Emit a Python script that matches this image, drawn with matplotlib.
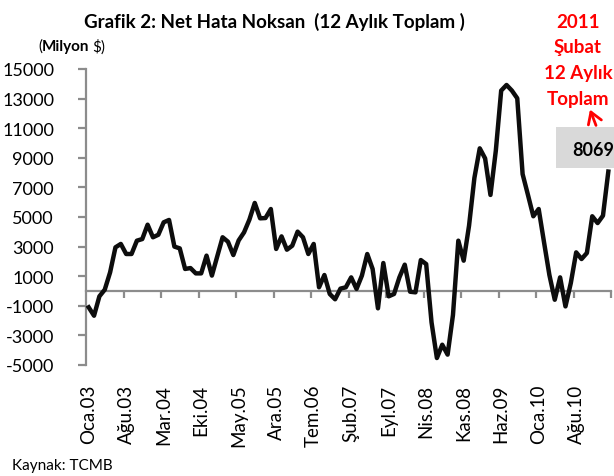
import matplotlib
matplotlib.use('Agg')
import matplotlib.pyplot as plt

plt.rcParams['font.family'] = ['Lato', 'DejaVu Sans']

# Net hata noksan, 12 aylik toplam (milyon $), Oca.03 - Sub.11
v2003 = [-1100, -1670, -360, 90, 1260, 2950, 3180, 2500, 2500, 3400, 3510, 4480]
v2004 = [3630, 3800, 4640, 4800, 3000, 2880, 1490, 1550, 1190, 1190, 2390, 1040]
v2005 = [2340, 3630, 3330, 2430, 3420, 3960, 4820, 5950, 4910, 4930, 5540, 2840]
v2006 = [3690, 2790, 3060, 4010, 3630, 2500, 3180, 250, 1080, -200, -560, 160]
v2007 = [250, 920, 140, 1040, 2500, 1490, -1170, 1890, -360, -200, 920, 1780]
v2008 = [-50, -90, 2090, 1820, -2120, -4530, -3630, -4300, -1620, 3400, 2050, 4410]
v2009 = [7640, 9640, 8960, 6490, 9480, 13540, 13920, 13540, 13020, 7900, 6490, 5050]
v2010 = [5540, 3290, 1080, -590, 920, -1040, 540, 2610, 2160, 2570, 5050, 4590]
v2011 = [5090, 8069]

tick_labels = ['Oca.03', 'Ağu.03', 'Mar.04', 'Eki.04', 'May.05', 'Ara.05', 'Tem.06',
               'Şub.07', 'Eyl.07', 'Nis.08', 'Kas.08', 'Haz.09', 'Oca.10', 'Ağu.10']
y_ticks = [-5000, -3000, -1000, 1000, 3000, 5000, 7000, 9000, 11000, 13000, 15000]

values = v2003 + v2004 + v2005 + v2006 + v2007 + v2008 + v2009 + v2010 + v2011
n = len(values)
step = 7

W, H = 614, 477


def px(x, y):
    # pixel position -> figure fraction
    return x / W, 1 - y / H


fig = plt.figure(figsize=(W / 100, H / 100), dpi=100)
ax_left, ax_right, ax_top, ax_bottom = 86, 611, 70, 366
ax = fig.add_axes([ax_left / W, 1 - ax_bottom / H,
                   (ax_right - ax_left) / W, (ax_bottom - ax_top) / H])
ax.patch.set_alpha(0)

ax.plot(range(n), values, color='#0d0d0d', linewidth=3.2, clip_on=False, zorder=3)

ax.set_xlim(-0.5, n - 0.5)
ax.set_ylim(y_ticks[0], y_ticks[-1])
ax.set_yticks(y_ticks)
ax.set_yticklabels([str(v) for v in y_ticks])

axis_gray = '#8c8c8c'
for s in ['top', 'right']:
    ax.spines[s].set_visible(False)
ax.spines['left'].set_color(axis_gray)
ax.spines['left'].set_linewidth(1.6)
ax.spines['bottom'].set_position(('data', 0))
ax.spines['bottom'].set_color(axis_gray)
ax.spines['bottom'].set_linewidth(1.6)

ax.set_xticks([step * k - 0.5 for k in range(1, n // step + 1)])
ax.set_xticklabels([])
ax.tick_params(axis='x', direction='out', length=5, width=1.6, color=axis_gray)
ax.tick_params(axis='y', direction='out', length=6, width=1.6, color=axis_gray,
               labelsize=13, pad=17, labelcolor='black')

# category labels at the bottom of the plot area
for k, lab in enumerate(tick_labels):
    ax.text(k * step, -0.063, lab, transform=ax.get_xaxis_transform(),
            rotation=90, ha='center', va='top', fontsize=13.5)

# title and units
fig.text(*px(274, 22), 'Grafik 2: Net Hata Noksan  (12 Aylık Toplam )',
         ha='center', va='center', fontsize=13.5, fontweight='bold')

renderer = fig.canvas.get_renderer()
xpos = 38
for part, weight, gap in [('(', 'normal', 0), ('Milyon', 'bold', 3), ('$)', 'normal', 0)]:
    t = fig.text(*px(xpos, 47), part, ha='left', va='center', fontsize=11,
                 fontweight=weight)
    xpos += t.get_window_extent(renderer).width + gap

# red note and value box (kept inside the image edge)
red = '#ff0000'
for i, line in enumerate(['2011', 'Şubat', '12 Aylık', 'Toplam']):
    fig.text(*px(578, 22 + i * 25.7), line, ha='center', va='center',
             fontsize=13.5, fontweight='bold', color=red)

fig.patches.append(plt.Rectangle(px(556, 169), (W - 556) / W, (169 - 128) / H,
                                 transform=fig.transFigure, facecolor='#d9d9d9',
                                 edgecolor='none', zorder=1))
fig.text(*px(572, 151), f'{values[-1]}', ha='left', va='center', fontsize=13,
         fontweight='bold')

fig.patches.append(matplotlib.patches.FancyArrowPatch(
    px(597, 129), px(589, 108), transform=fig.transFigure,
    arrowstyle='->,head_length=8,head_width=5', color=red, linewidth=2,
    mutation_scale=1))

fig.text(*px(12, 466), 'Kaynak: TCMB', ha='left', va='center', fontsize=11)

fig.savefig('out.png', dpi=100, facecolor='white')
